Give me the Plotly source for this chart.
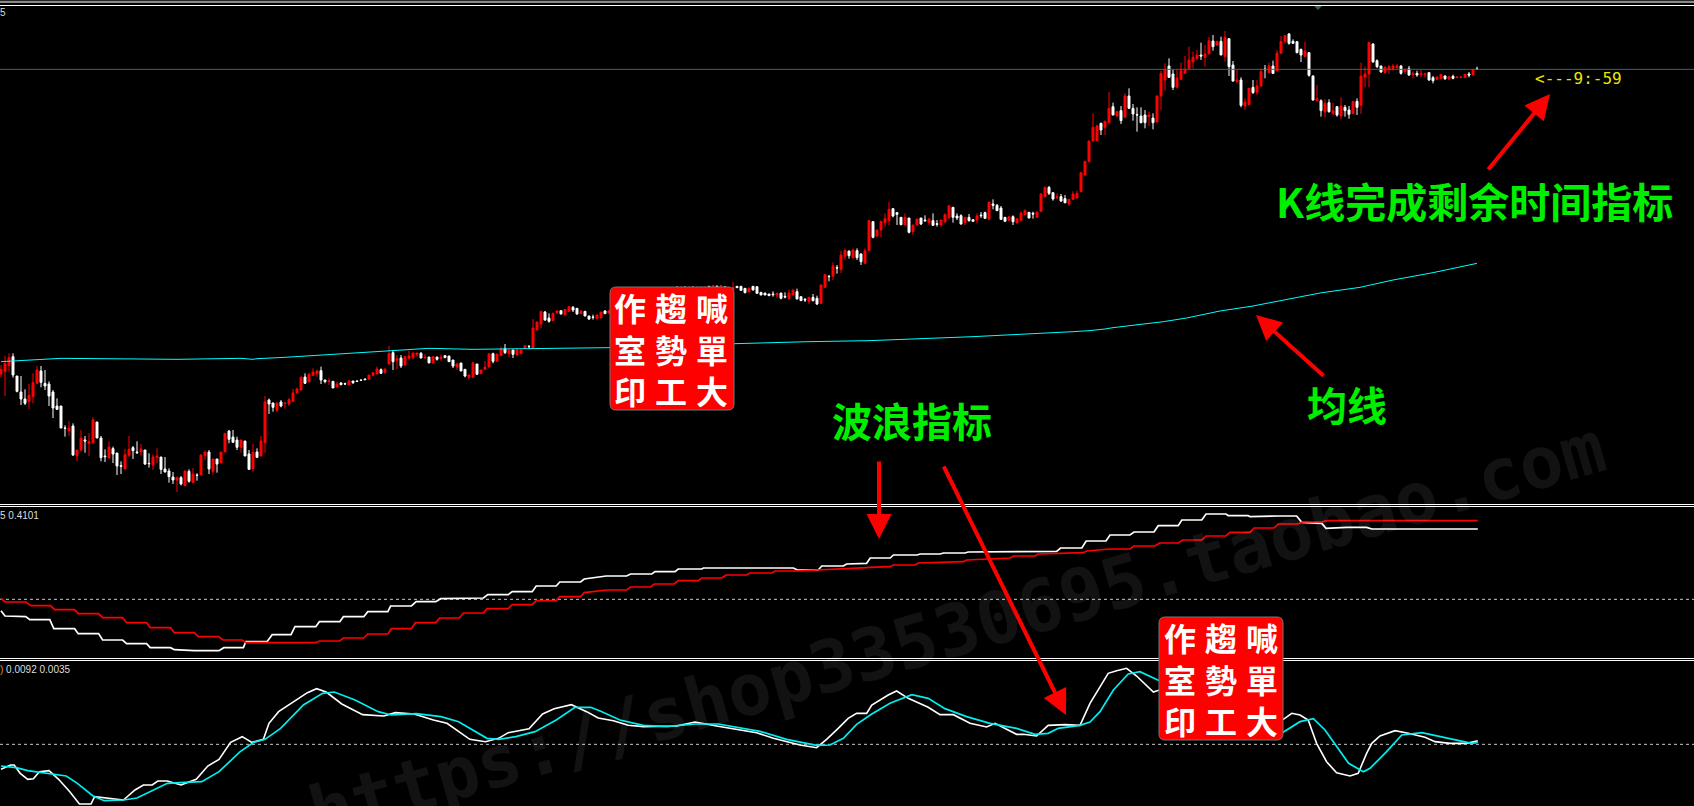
import plotly.graph_objects as go

W, H = 1694, 806

# ---- main panel candles (price points) ----
opens = [396,403,421,448,390,342,321,314,328,368,
405,368,366,342,300,300,234,225,240,150,
168,198,188,190,252,204,150,144,172,159,
121,111,152,175,162,162,168,128,123,145,
147,111,105,87,78,85,61,104,70,93,
93,151,162,104,141,129,162,225,207,198,
176,195,156,112,162,150,190,318,309,287,
312,307,306,314,339,348,387,372,392,397,
406,378,373,374,357,369,367,363,375,375,
378,381,380,392,396,409,401,426,460,437,
444,423,443,444,454,458,444,447,429,447,
442,451,450,438,417,429,410,386,386,426,
397,410,417,457,434,451,472,457,468,453,
457,473,479,474,528,546,582,564,556,580,
586,573,584,596,593,577,584,570,567,562,
564,585,
579,589,587,596,593,603,600,609,605,613,613,623,620,629,625,635,632,641,637,646,643,651,647,655,650,658,655,659,655,657,649,
648,659,659,653,642,659,658,
641,639,636,636,633,639,629,622,633,643,
628,620,613,626,623,608,656,689,690,715,
710,749,765,745,766,756,728,766,853,810,
828,850,856,892,880,866,843,864,823,843,
864,858,850,856,847,843,852,864,896,870,
871,850,866,859,858,873,880,860,906,902,
894,866,857,868,849,857,874,881,878,866,
884,928,956,940,926,928,922,906,920,924,
943,993,1033,1095,1096,1148,1136,1150,1198,1170,
1186,1166,1230,1193,1174,1170,1173,1168,1164,1152,
1230,1278,1320,1296,1256,1280,1298,1313,1332,1343,
1353,1346,1356,1395,1383,1394,1348,1402,1323,1274,
1278,1200,1204,1256,1241,1260,1311,1300,1320,1305,
1358,1393,1416,1394,1393,1370,1348,1360,1290,1216,
1216,1182,1210,1178,1198,1170,1196,1188,1178,1214,
1202,1286,1296,1386,1336,1320,1300,1310,1313,1315,
1320,1303,1312,1294,1298,1294,1294,1300,1285,1280,
1282,1290,1281,1289,1285,1285,1285,1296,1293,1311]

highs = [423,450,458,458,390,390,350,366,398,420,
420,408,374,348,323,300,242,255,248,168,
228,210,218,266,252,210,170,194,178,159,
134,172,210,180,194,186,168,158,155,173,
147,147,113,102,86,90,106,110,114,98,
155,166,168,141,141,162,218,228,228,208,
198,195,168,186,173,210,330,322,310,310,
318,309,324,351,355,390,398,400,413,409,
418,378,383,374,373,372,370,378,375,376,
379,382,393,402,418,413,414,480,468,453,
453,448,466,460,459,462,456,447,448,447,
455,453,450,438,428,429,410,395,432,426,
408,435,458,460,458,478,486,468,468,470,
468,483,483,561,553,585,585,578,580,588,
586,590,600,600,594,588,584,570,574,573,
582,588,
588,592,596,599,602,606,609,612,614,616,622,626,629,632,634,638,641,660,660,660,660,660,660,658,659,661,662,662,662,660,658,
672,659,659,653,654,660,658,
641,639,636,644,641,639,641,649,652,652,
628,624,626,636,631,665,696,693,731,723,
766,773,766,772,773,758,773,857,855,830,
856,878,912,893,880,866,878,864,843,861,
864,872,863,878,858,858,878,904,896,878,
875,866,876,859,878,882,883,912,920,906,
900,866,868,872,864,883,890,882,883,883,
938,958,960,940,938,936,933,921,944,946,
1002,1035,1096,1178,1143,1150,1156,1242,1210,1183,
1200,1238,1253,1206,1196,1196,1188,1183,1178,1232,
1306,1328,1343,1308,1308,1330,1350,1378,1363,1368,
1390,1383,1408,1413,1396,1408,1425,1402,1335,1310,
1286,1223,1254,1278,1278,1313,1323,1330,1336,1368,
1410,1413,1419,1400,1394,1372,1393,1360,1292,1263,
1220,1220,1220,1210,1198,1226,1203,1200,1213,1223,
1330,1318,1392,1388,1340,1321,1320,1323,1326,1326,
1323,1312,1320,1304,1306,1308,1300,1302,1290,1288,
1296,1292,1288,1294,1287,1288,1296,1302,1311,1318]

lows = [386,330,403,385,341,303,303,291,308,368,
356,348,300,264,288,234,208,210,150,134,
164,160,150,186,204,134,132,143,129,93,
96,111,148,141,156,151,123,115,108,128,
96,101,70,66,42,62,60,70,68,76,
93,138,96,94,100,129,162,188,191,168,
160,150,108,102,144,150,160,276,283,282,
296,292,300,314,338,348,366,372,392,388,
366,368,363,354,356,362,363,362,366,373,
376,378,380,390,396,396,396,426,408,411,
414,421,443,443,448,443,442,429,428,436,
436,444,432,414,408,405,386,378,386,393,
396,410,416,428,432,450,456,446,444,453,
456,471,471,474,528,534,556,550,554,576,
575,573,583,582,574,576,570,558,559,562,
564,576,
576,580,584,587,590,594,597,600,602,604,610,614,617,620,622,626,629,632,634,637,640,642,644,646,647,649,652,650,652,648,646,
648,655,647,638,642,647,638,
633,633,631,628,625,620,623,618,632,620,
616,612,606,614,603,606,655,674,678,697,
699,738,742,742,738,723,726,765,803,806,
806,838,843,866,843,842,843,818,813,841,
843,852,843,840,838,838,850,863,850,858,
844,843,853,854,848,864,863,860,890,886,
858,854,857,843,848,856,873,863,862,865,
882,926,933,916,920,912,908,900,918,923,
941,991,1031,1093,1094,1113,1113,1148,1172,1168,
1146,1166,1191,1156,1123,1148,1133,1140,1130,1150,
1188,1246,1284,1248,1253,1278,1296,1310,1313,1338,
1338,1318,1356,1366,1380,1353,1333,1290,1273,1268,
1196,1188,1202,1236,1233,1258,1283,1298,1296,1304,
1358,1390,1384,1386,1358,1332,1346,1288,1216,1213,
1168,1166,1180,1173,1168,1160,1168,1162,1176,1173,
1176,1256,1256,1330,1314,1300,1298,1296,1306,1312,
1294,1296,1290,1282,1288,1286,1286,1276,1268,1278,
1280,1278,1278,1280,1285,1284,1284,1286,1292,1310]

closes = [410,428,445,393,344,321,308,332,370,408,
371,360,330,294,290,234,233,234,153,168,
204,195,193,258,204,145,148,177,156,120,
119,154,170,166,160,171,126,127,147,150,
110,102,88,78,86,66,105,74,96,92,
153,162,111,141,126,162,218,200,191,176,
198,150,110,161,146,195,312,306,296,309,
300,309,319,339,351,385,368,395,402,405,
378,373,375,354,366,364,366,375,370,374,
377,379,393,400,411,398,410,457,433,442,
420,448,450,459,459,444,446,429,448,440,
447,445,433,420,426,405,390,393,429,395,
408,417,456,434,455,471,460,467,455,468,
468,481,478,534,552,584,558,554,578,585,
576,590,598,588,576,584,570,561,566,573,
582,577,
585,583,593,590,599,597,606,603,611,607,619,617,626,623,631,629,638,635,643,640,649,645,653,649,656,652,661,653,661,651,655,
656,655,647,640,654,648,638,
633,633,631,634,637,623,627,639,647,621,
616,618,626,616,606,663,694,688,720,714,
753,766,751,768,745,733,766,856,806,828,
854,862,890,870,875,844,866,821,843,861,
846,856,861,842,845,858,874,900,866,864,
846,866,856,854,870,871,863,912,902,886,
860,854,868,853,862,879,886,864,876,882,
936,956,938,921,928,915,910,920,936,938,
1000,1034,1095,1136,1140,1128,1154,1193,1173,1183,
1156,1230,1193,1176,1173,1150,1150,1173,1150,1230,
1298,1310,1286,1256,1284,1306,1308,1338,1346,1353,
1350,1356,1396,1378,1393,1353,1406,1318,1275,1278,
1202,1212,1253,1240,1260,1303,1309,1320,1298,1358,
1394,1411,1388,1388,1360,1353,1365,1292,1218,1222,
1186,1208,1183,1186,1173,1200,1186,1175,1213,1196,
1290,1296,1391,1332,1318,1302,1316,1318,1320,1320,
1298,1310,1293,1298,1293,1298,1296,1278,1276,1287,
1294,1282,1288,1283,1287,1287,1295,1293,1310,1310]

assert len(opens) == len(highs) == len(lows) == len(closes), (len(opens), len(highs), len(lows), len(closes))
bars = list(range(len(opens)))

# moving average
ma_bar = [0,6,10,15,44,60,63,64,71,76,80,83,87,91,95,102,107,118,138,146,152,156,165,175,183,188,202,217,225,232,238,243,248,254,259,263,268,272,274,276,278,282.25,290.6,296.4,304.75,313,321.4,329.75,339.75,348,358,369]
ma_val = [433,437,440,443,440,443,440,442,446,449,452,455,458,461,464,470,473,470,473,472,475,478,481,484,487,490,493,496,499,502,505,508,511,514,517,520,523,526,528,531,535,541,553,564,585,600,620,639,656,678,700,728]

level_price = 1310

# ---- middle indicator ----
mid_white_bar = [0,1,6.2,7.2,12.2,13.2,18.4,19.3,24.4,25.4,30.4,31.4,36.4,37.3,42.4,43.3,48.3,54.5,55.7,60.6,61.2,66.5,67.8,72.5,73.5,78.7,79.6,84.7,85.6,90.7,91.7,96.7,97.4,102.6,103.8,108.7,109.9,120.6,121.7,126.8,127.8,132.8,133.8,138.8,139.7,144.9,145.8,
151.3,156.4,157.4,162.7,163.5,168.5,169.3,175.2,175.6,198.1,199.1,204.3,205.2,210.6,211.4,216.4,217.3,222.3,223.1,229,229.8,234.8,235.6,241,241.8,263.9,264.9,270.2,271.3,
276.25,277.25,282.25,283.25,288.25,289.3,294.3,295.2,300.2,301.25,306.25,306.8,311.8,312.25,319.3,323.9,325.2,330.2,331.25,336.4,341.4,342.7,369.2]
mid_white_val = [142,126,124,115,115,88,88,73,73,54,54,43,43,31,31,25,22,22,31,31,49,49,70,70,94,94,109,109,124,124,139,139,156,156,169,169,178,180,190,190,199,199,216,216,228,228,237,
246,246,252,252,259,259,267,267,270,270,264,264,276,276,282,284,300,300,309,309,312,312,315,315,318,320,330,330,351,
351,369,369,378,378,397,397,414,414,432,432,427,427,424,426,426,407,404,389,392,392,387,387]
mid_red_bar = [0,1,6.2,7.5,12.4,13.4,18.4,19.3,24.4,25.4,30.4,31.4,36.4,37.3,42.4,43.3,48.3,49.3,54.4,55.5,60.3,61.2,78.7,79.6,84.7,85.6,90.7,91.7,96.7,97.6,102.6,103.6,108.7,109.7,114.6,115.6,120.6,121.5,126.8,127.8,132.8,133.8,138.8,139.7,144.9,145.8,
151.4,156.4,157.4,162.4,163.3,168.3,169.3,174.3,175.2,180.2,181.25,186.4,187.25,192.7,193.5,198.9,216.4,217.1,222.3,223.1,228.5,229.3,240.6,241.4,252.25,253.1,258.5,259.3,270.6,271.4,
277.25,282.25,283.25,288.5,289.6,294.3,295.4,300.2,301.25,306.25,307.25,312.25,313.25,318.25,319.3,324.3,325.3,330.2,331.4,369.2]
mid_red_val = [179,168,168,157,157,145,145,133,133,121,121,106,106,91,91,76,76,64,64,54,54,46,46,51,51,60,60,72,72,88,88,106,106,120,120,135,135,148,148,160,160,172,172,184,184,196,
204,204,213,213,222,222,232,232,240,240,249,249,255,255,261,261,271,272,274,279,279,285,289,294,300,306,306,312,316,321,
327,327,336,336,345,345,354,354,366,366,377,377,390,390,402,402,408,408,412,412]
mid_level = 176

# ---- lower oscillator ----
low_white_bar = [0,2.4,3.3,4.8,6.7,8.1,9.6,12,14.4,17.2,19.6,22.5,23.4,27.8,30.6,33.5,35.6,37.8,39.2,41.6,45,48.8,51.7,54.5,57.4,60.3,62.7,65.6,67,69.4,73.7,76.6,78.9,81.3,85.2,90.4,95.7,98.6,103.3,108.1,111.5,117.2,121.1,124.4,126.8,132,135.4,138.3,142.6,146.4,149.3,
153.1,156.8,160.6,168.9,173.5,178.9,184.75,188.9,193.1,199.75,203.9,206.4,209.3,211.8,213.9,216.4,217.7,221.8,223.9,226.8,231.8,234.75,238.1,242.25,246.4,248.5,253.9,255.6,258.9,261.8,266,269.75,272.25,274.75,
276.8,278.9,281.4,283.9,288.1,289.6,300,310,320.6,322.7,324.75,326.8,328.9,331.4,333.9,337.25,339.3,341.4,342.7,344.75,348.5,351.8,356,358.5,362.25,366.4,369.2]
low_white_val = [162,175,175,150,132,134,155,158,132,95,58,58,80,74,70,100,115,115,127,127,115,132,172,192,243,260,243,252,300,335,368,392,404,394,358,326,322,332,328,310,300,252,245,255,272,284,328,344,356,335,316,
308,294,290,292,304,292,280,272,255,235,227,252,285,315,330,330,355,385,397,375,348,326,326,300,289,300,267,267,262,294,296,294,360,410,
450,458,465,442,394,400,340,300,312,330,325,310,240,185,152,142,150,210,240,262,278,270,258,245,240,240,248]
low_cyan_bar = [0,3.8,6.7,12.4,16.3,19.1,23,25.8,30.6,34,37.3,41.6,45.9,50.2,54.5,59.8,63.2,66,69.9,75.6,80.4,83.3,88.5,94.3,97.6,103.8,110,114.4,121.5,124.4,128.7,133.5,138.8,143.5,147.4,
149.8,154.75,160.6,166.4,173.5,179.3,187.25,189.75,196.4,203.9,207.25,210.6,213.9,217.7,222.25,227.7,231.8,236,241.4,247.25,253.9,258.5,261.8,264.3,269.75,272.25,274.75,
278.1,281.8,284.75,289.6,300,310,320.6,324.75,328.1,331,336.9,340.6,342.25,346.4,350.2,355.2,361.8,367.7,369.2]
low_cyan_val = [172,167,158,148,142,120,82,68,70,76,95,120,123,125,155,215,243,252,285,355,390,394,370,335,325,329,320,305,255,252,260,275,310,348,348,
337,310,294,290,298,298,282,276,252,234,235,255,297,328,360,386,375,344,320,300,285,267,270,285,294,304,335,
400,448,455,428,370,320,274,305,314,280,180,155,165,215,265,272,255,240,243]
low_level = 237

# ---- text ----
stamp_columns = ["作<br>室<br>印", "趨<br>勢<br>工", "喊<br>單<br>大"]
label_time = "K线完成剩余时间指标"
label_ma = "均线"
label_wave = "波浪指标"
timer_text = "&lt;---9:-59"
watermark = "https://shop33530695.taobao.com"


def px(x):
    return x / W


def py(y):
    return 1 - y / H


xr = [-0.25, 423.25]
fig = go.Figure()

# level lines
fig.add_trace(go.Scatter(x=xr, y=[level_price, level_price], yaxis="y", mode="lines",
                         line=dict(color="#3f6565", width=1)))
fig.add_trace(go.Scatter(x=xr, y=[mid_level, mid_level], yaxis="y2", mode="lines",
                         line=dict(color="#c8c8c8", width=1, dash="3px,3px")))
fig.add_trace(go.Scatter(x=xr, y=[low_level, low_level], yaxis="y3", mode="lines",
                         line=dict(color="#c8c8c8", width=1, dash="3px,3px")))

fig.add_trace(go.Candlestick(
    x=bars, open=opens, high=highs, low=lows, close=closes, yaxis="y",
    increasing=dict(line=dict(color="#ff0000", width=1), fillcolor="#ff0000"),
    decreasing=dict(line=dict(color="#ffffff", width=1), fillcolor="#ffffff"),
    whiskerwidth=0,
))
fig.add_trace(go.Scatter(x=ma_bar, y=ma_val, yaxis="y", mode="lines",
                         line=dict(color="#00ffff", width=1)))

fig.add_trace(go.Scatter(x=mid_white_bar, y=mid_white_val, yaxis="y2", mode="lines",
                         line=dict(color="#ffffff", width=1.7)))
fig.add_trace(go.Scatter(x=mid_red_bar, y=mid_red_val, yaxis="y2", mode="lines",
                         line=dict(color="#ff0000", width=1.7)))

fig.add_trace(go.Scatter(x=low_white_bar, y=low_white_val, yaxis="y3", mode="lines",
                         line=dict(color="#ffffff", width=1.6)))
fig.add_trace(go.Scatter(x=low_cyan_bar, y=low_cyan_val, yaxis="y3", mode="lines",
                         line=dict(color="#00eeee", width=1.7)))

shapes = []


def hline(y, color="#ffffff"):
    shapes.append(dict(type="line", xref="paper", yref="paper", x0=0, x1=1, y0=py(y), y1=py(y),
                       line=dict(color=color, width=1), layer="above"))


shapes.append(dict(type="rect", xref="paper", yref="paper", x0=0, x1=1, y0=py(3), y1=py(0.8),
                   fillcolor="#8a8a8a", line=dict(width=0), layer="above"))
for y in (5.5, 504.5, 506.5, 658.5, 660.5):
    hline(y)

# small pointer at the top of the chart
shapes.append(dict(type="path", xref="paper", yref="paper", fillcolor="#3a5a5a", line=dict(width=0),
                   path=f"M {px(1314)} {py(6)} L {px(1322)} {py(6)} L {px(1318)} {py(10)} Z", layer="above"))


def stamp(x0, y0, x1, y1, r=6):
    p = (f"M {px(x0+r)} {py(y0)} L {px(x1-r)} {py(y0)} Q {px(x1)} {py(y0)} {px(x1)} {py(y0+r)} "
         f"L {px(x1)} {py(y1-r)} Q {px(x1)} {py(y1)} {px(x1-r)} {py(y1)} "
         f"L {px(x0+r)} {py(y1)} Q {px(x0)} {py(y1)} {px(x0)} {py(y1-r)} "
         f"L {px(x0)} {py(y0+r)} Q {px(x0)} {py(y0)} {px(x0+r)} {py(y0)} Z")
    shapes.append(dict(type="path", xref="paper", yref="paper", path=p, fillcolor="#ff0000",
                       line=dict(color="#777777", width=1), layer="above"))


stamp(610, 287, 734, 410)
stamp(1159, 617, 1283, 740)

ann = []


def text(s, x, y, size, color, family="Noto Sans CJK SC", bold=False, xanchor="center"):
    t = f"<b>{s}</b>" if bold else s
    a = dict(text=t, x=px(x), y=py(y), xref="paper", yref="paper", showarrow=False,
             xanchor=xanchor, yanchor="middle", font=dict(size=size, color=color, family=family))
    ann.append(a)


# watermark
ann.append(dict(text="<b>" + watermark + "</b>", x=px(957), y=py(630), xref="paper", yref="paper", showarrow=False,
                xanchor="center", yanchor="middle", textangle=-16,
                font=dict(size=72, color="rgba(255,255,255,0.07)", family="DejaVu Sans Mono")))

for dx, dy in ((0, 0), (550, 330)):
    for c, col in enumerate(stamp_columns):
        text(col, 630 + 41 * c + dx, 348 + dy, 32, "#ffffff", family="Noto Sans CJK TC", bold=True)

text(label_time, 1474, 200, 41, "#00ee00", bold=True)
text(label_ma, 1347, 404, 40, "#00ee00", bold=True)
text(label_wave, 912, 420, 40, "#00ee00", bold=True)
text(timer_text, 1533, 79, 16, "#e6e600", family="DejaVu Sans Mono", xanchor="left")
text("5", -2, 13, 10, "#dddddd", family="Liberation Sans", xanchor="left")
text("5 0.4101", -2, 515.5, 10, "#dddddd", family="Liberation Sans", xanchor="left")
text("<span style='color:#e09020'>)</span> 0.0092 0.0035", -2, 669.5, 10, "#dddddd", family="Liberation Sans", xanchor="left")

for tail, tip in (((1487, 171), (1550, 94)), ((1325, 377), (1256, 315)),
                  ((879, 460), (879, 539)), ((943, 465), (1066, 715))):
    ann.append(dict(x=px(tip[0]), y=py(tip[1]), xref="paper", yref="paper", ax=tail[0] - tip[0], ay=tail[1] - tip[1],
                    axref="pixel", ayref="pixel", text="", showarrow=True, arrowhead=2, arrowsize=1.25,
                    arrowwidth=4, arrowcolor="#ff0000", standoff=0, startstandoff=0))

fig.update_layout(
    width=W, height=H, autosize=False,
    margin=dict(l=0, r=0, t=0, b=0, pad=0),
    paper_bgcolor="#000000", plot_bgcolor="#000000",
    showlegend=False, hovermode=False,
    shapes=shapes, annotations=ann,
    xaxis=dict(domain=[0, 1], range=xr, visible=False, rangeslider=dict(visible=False), anchor="y"),
    yaxis=dict(domain=[py(504), py(6)], range=[6, 1500], visible=False),
    yaxis2=dict(domain=[py(658), py(507)], range=[0, 453], visible=False, anchor="x"),
    yaxis3=dict(domain=[0, py(661)], range=[52, 487], visible=False, anchor="x"),
)

fig.write_html("out.html", config=dict(displayModeBar=False),
               post_script="document.body.style.margin='0';document.body.style.background='#000';")
